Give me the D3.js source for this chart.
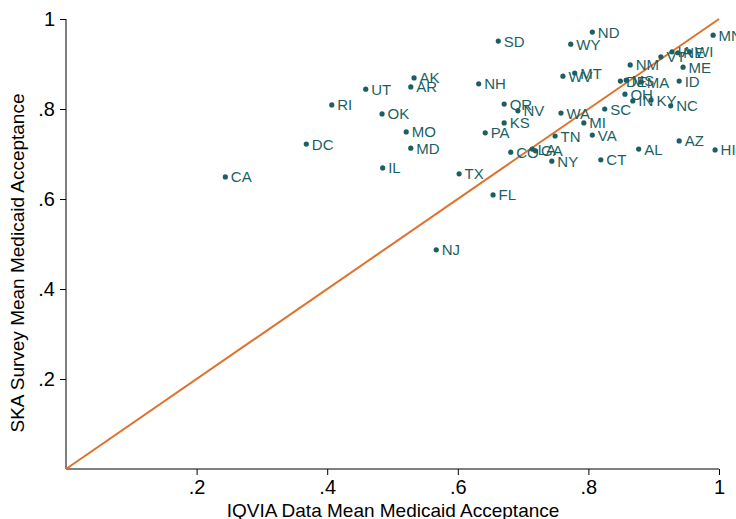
<!DOCTYPE html>
<html><head><meta charset="utf-8">
<script src="https://cdn.jsdelivr.net/npm/d3@7"></script>
<style>body{margin:0;background:#fff}svg{display:block}</style>
</head><body>
<script>
const states = ["CA","DC","RI","UT","AK","AR","OK","MO","MD","IL","TX","NJ","FL","NH","SD","OR","NV","KS","PA","CO","LA","GA","MN","ND","WY","NM","WV","MT","ME","ID","DE","MS","MA","VT","IA","NE","WI","OH","IN","KY","NC","SC","WA","MI","TN","VA","NY","CT","AL","AZ","HI"];
const iqvia = [0.244,0.368,0.407,0.459,0.533,0.528,0.484,0.521,0.528,0.485,0.602,0.567,0.654,0.632,0.662,0.671,0.692,0.671,0.642,0.681,0.714,0.719,0.991,0.806,0.773,0.864,0.761,0.779,0.945,0.939,0.849,0.858,0.881,0.911,0.928,0.937,0.955,0.856,0.868,0.896,0.926,0.825,0.758,0.793,0.749,0.806,0.744,0.819,0.877,0.939,0.994];
const ska = [0.649,0.722,0.809,0.844,0.869,0.849,0.789,0.749,0.713,0.669,0.656,0.487,0.609,0.856,0.951,0.811,0.796,0.769,0.747,0.704,0.711,0.707,0.964,0.971,0.944,0.898,0.873,0.880,0.893,0.862,0.862,0.864,0.860,0.916,0.927,0.925,0.927,0.833,0.818,0.820,0.807,0.800,0.791,0.769,0.740,0.742,0.684,0.687,0.711,0.729,0.709];
const xTicks = [0.2,0.4,0.6,0.8,1];
const yTicks = [0.2,0.4,0.6,0.8,1];
const fmt = v => v===1 ? "1" : String(v).replace(/^0/,"");

const W=736,H=519;
const svg=d3.select("body").append("svg").attr("width",W).attr("height",H);
const x=d3.scaleLinear().domain([0,1]).range([66,719]);
const y=d3.scaleLinear().domain([0,1]).range([469,19]);
const font="'Liberation Sans', Arial, Helvetica, sans-serif";
const teal="#1b5f63";

const xa=svg.append("g").attr("transform","translate(0,469)")
  .call(d3.axisBottom(x).tickValues(xTicks).tickFormat(fmt).tickSize(6).tickPadding(5));
const ya=svg.append("g").attr("transform","translate(66,0)")
  .call(d3.axisLeft(y).tickValues(yTicks).tickFormat(fmt).tickSize(6).tickPadding(5));
[xa,ya].forEach(a=>{
  a.select(".domain").attr("stroke","#000").attr("stroke-width",1);
  a.selectAll(".tick line").attr("stroke","#000");
  a.selectAll("text").attr("font-family",font).attr("font-size",20).attr("fill","#000");
});
xa.select(".domain").attr("d",`M${x(0)},0H${x(1)}`);
ya.select(".domain").attr("d",`M0,${y(0)}V${y(1)}`);

svg.append("line").attr("x1",x(0)).attr("y1",y(0)).attr("x2",x(1)).attr("y2",y(1))
  .attr("stroke","#e0712b").attr("stroke-width",2);

const data=states.map((s,i)=>({s,x:iqvia[i],y:ska[i]}));
const g=svg.append("g");
g.selectAll("circle").data(data).join("circle")
  .attr("cx",d=>x(d.x)).attr("cy",d=>y(d.y)).attr("r",2.6).attr("fill",teal);
g.selectAll("text").data(data).join("text")
  .attr("x",d=>x(d.x)+5.5).attr("y",d=>y(d.y)+5.5)
  .attr("font-family",font).attr("font-size",15).attr("fill",teal).text(d=>d.s);

svg.append("text").attr("x",393).attr("y",517).attr("text-anchor","middle")
  .attr("font-family",font).attr("font-size",19).attr("fill","#000")
  .text("IQVIA Data Mean Medicaid Acceptance");
svg.append("text").attr("transform",`translate(24,${(y(0)+y(1))/2+19}) rotate(-90)`)
  .attr("text-anchor","middle").attr("font-family",font).attr("font-size",19).attr("fill","#000")
  .text("SKA Survey Mean Medicaid Acceptance");
</script>
</body></html>
